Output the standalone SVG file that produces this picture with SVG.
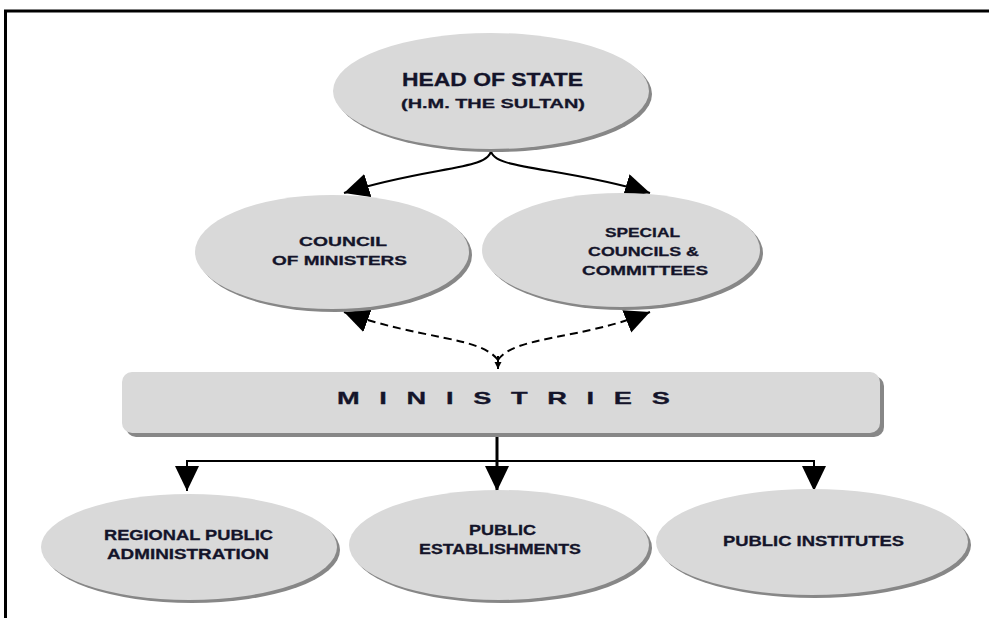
<svg xmlns="http://www.w3.org/2000/svg" width="989" height="618" viewBox="0 0 989 618">
<defs>
<style>
.sh{fill:#878787}
.nd{fill:#d9d9d9}
.t{font-family:"Liberation Sans",Arial,sans-serif;font-weight:bold;fill:#14142a;stroke:#14142a;stroke-width:0.3}
.c{fill:none;stroke:#000;stroke-width:2}
.d{fill:none;stroke:#000;stroke-width:2;stroke-dasharray:8 5}
</style>
<marker id="ah" markerUnits="userSpaceOnUse" markerWidth="27" markerHeight="25" refX="25" refY="12" orient="auto">
<path d="M0,0 L25,12 L0,24 Z" fill="#000"/>
</marker>
<marker id="as" markerUnits="userSpaceOnUse" markerWidth="8" markerHeight="8" refX="7" refY="3.5" orient="auto">
<path d="M0,0 L7,3.5 L0,7 Z" fill="#000"/>
</marker>
</defs>
<rect width="989" height="618" fill="#fff"/>
<path d="M5.5,618 V11 H989" fill="none" stroke="#000" stroke-width="3"/>

<g id="connectors">
<path class="c" d="M491,150 C491,170 430,166 344,193" marker-end="url(#ah)"/>
<path class="c" d="M491,150 C491,170 560,166 650,193" marker-end="url(#ah)"/>
<path class="d" d="M498,360 C480,336 420,340 344,312" marker-end="url(#ah)"/>
<path class="d" d="M498,360 C514,336 580,340 650,312" marker-end="url(#ah)"/>
<path class="c" d="M498,356 V369" marker-end="url(#as)"/>
<path d="M497,433 V491" fill="none" stroke="#000" stroke-width="3" marker-end="url(#ah)"/>
<path class="c" d="M497,461 H187 V491" marker-end="url(#ah)"/>
<path class="c" d="M497,461 H814 V491" marker-end="url(#ah)"/>
</g>

<g id="head-of-state">
<ellipse class="sh" cx="494" cy="94" rx="158" ry="58"/>
<ellipse class="nd" cx="491" cy="91" rx="158" ry="58"/>
<text class="t" x="402" y="86" font-size="17.5" textLength="181" lengthAdjust="spacingAndGlyphs">HEAD OF STATE</text>
<text class="t" x="401" y="108" font-size="13.5" textLength="184" lengthAdjust="spacingAndGlyphs">(H.M. THE SULTAN)</text>
</g>

<g id="council-of-ministers">
<ellipse class="sh" cx="335" cy="255" rx="137" ry="57"/>
<ellipse class="nd" cx="332" cy="252" rx="137" ry="57"/>
<text class="t" x="299" y="246" font-size="13.5" textLength="88" lengthAdjust="spacingAndGlyphs">COUNCIL</text>
<text class="t" x="272" y="265" font-size="13.5" textLength="135" lengthAdjust="spacingAndGlyphs">OF MINISTERS</text>
</g>

<g id="special-councils">
<ellipse class="sh" cx="624" cy="253" rx="139" ry="57"/>
<ellipse class="nd" cx="621" cy="250" rx="139" ry="57"/>
<text class="t" x="605" y="237" font-size="13.5" textLength="75" lengthAdjust="spacingAndGlyphs">SPECIAL</text>
<text class="t" x="588" y="256" font-size="13.5" textLength="111" lengthAdjust="spacingAndGlyphs">COUNCILS &amp;</text>
<text class="t" x="582" y="275" font-size="13.5" textLength="126" lengthAdjust="spacingAndGlyphs">COMMITTEES</text>
</g>

<g id="ministries">
<rect class="sh" x="126" y="376" width="758" height="61" rx="10"/>
<rect class="nd" x="122" y="372" width="758" height="61" rx="10"/>
<text class="t" transform="matrix(1.6 0 0 1 337 404)" x="0" y="0" font-size="17" textLength="208" lengthAdjust="spacing">MINISTRIES</text>
</g>

<g id="regional-public-administration">
<ellipse class="sh" cx="192" cy="550" rx="148" ry="53"/>
<ellipse class="nd" cx="189" cy="547" rx="148" ry="53"/>
<text class="t" x="104" y="540" font-size="14.5" textLength="169" lengthAdjust="spacingAndGlyphs">REGIONAL PUBLIC</text>
<text class="t" x="107" y="559" font-size="14.5" textLength="162" lengthAdjust="spacingAndGlyphs">ADMINISTRATION</text>
</g>

<g id="public-establishments">
<ellipse class="sh" cx="502" cy="548" rx="150" ry="55"/>
<ellipse class="nd" cx="499" cy="545" rx="150" ry="55"/>
<text class="t" x="469" y="535" font-size="14.5" textLength="67" lengthAdjust="spacingAndGlyphs">PUBLIC</text>
<text class="t" x="419" y="554" font-size="14.5" textLength="162" lengthAdjust="spacingAndGlyphs">ESTABLISHMENTS</text>
</g>

<g id="public-institutes">
<ellipse class="sh" cx="815" cy="545" rx="156" ry="53"/>
<ellipse class="nd" cx="812" cy="542" rx="156" ry="53"/>
<text class="t" x="723" y="546" font-size="14.5" textLength="181" lengthAdjust="spacingAndGlyphs">PUBLIC INSTITUTES</text>
</g>
</svg>
